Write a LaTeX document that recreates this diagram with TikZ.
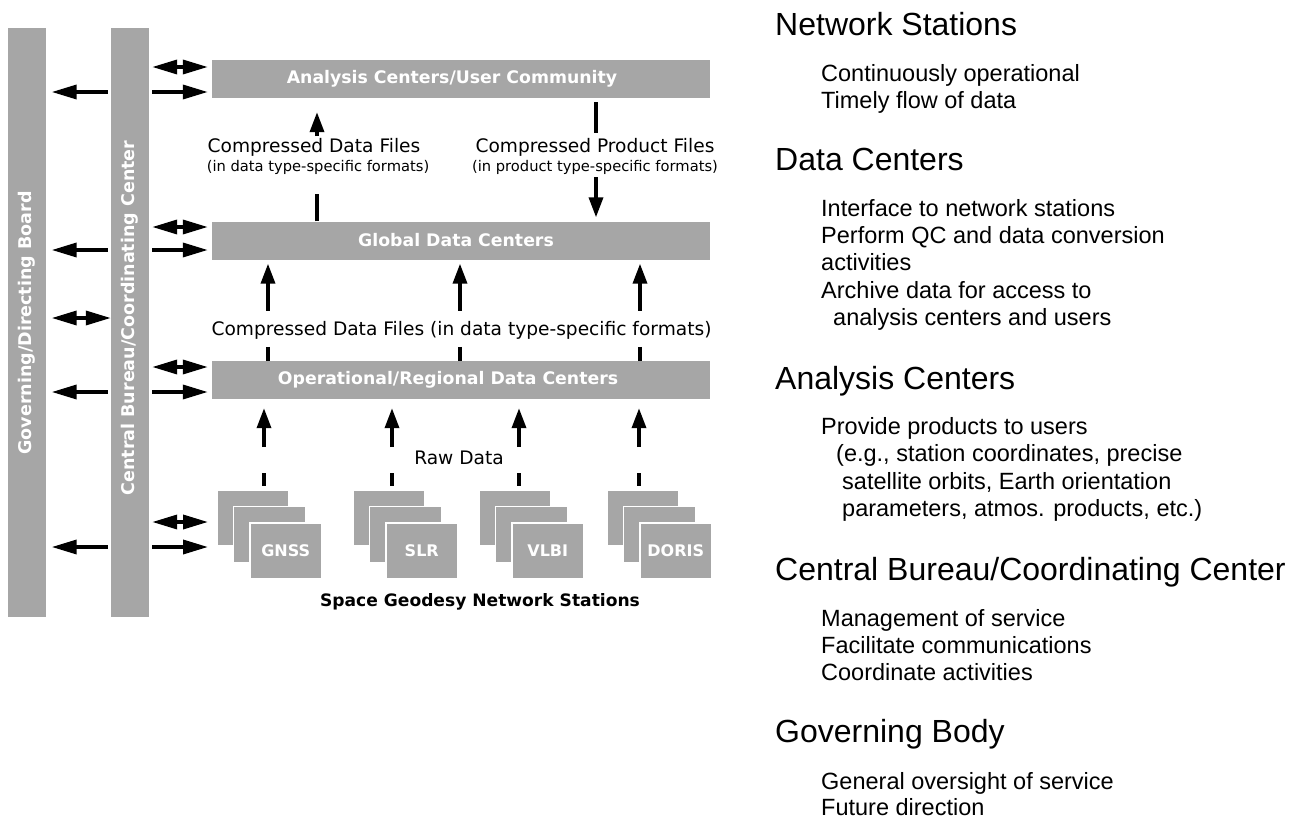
\documentclass[tikz,border=0pt]{standalone}
\usepackage{fontspec}
\setmainfont{Liberation Sans}
\newfontfamily\dv{DejaVu Sans}
\usetikzlibrary{arrows.meta,calc}
\definecolor{boxgray}{RGB}{166,166,166}
\begin{document}
\begin{tikzpicture}[x=1pt,y=-1pt,
  bar/.style={fill=boxgray, draw=none, inner sep=0pt, minimum width=38pt, minimum height=589pt},
  vtext/.style={rotate=90, text=white, inner sep=0pt, font=\dv\bfseries\fontsize{17.5}{20}\selectfont},
  box/.style={fill=boxgray, draw=none, inner sep=0pt, minimum width=498pt, minimum height=38pt},
  boxtxt/.style={text=white, inner sep=0pt, font=\dv\bfseries\fontsize{17.3}{20}\selectfont},
  stbox/.style={fill=boxgray, draw=white, line width=1.5pt, minimum width=72pt, minimum height=56pt, inner sep=0pt, anchor=north west},
  sttxt/.style={text=white, inner sep=0pt, font=\dv\bfseries\fontsize{16}{19}\selectfont},
  arr/.style={line width=3.5pt, -{Triangle[length=20pt,width=14pt]}},
  harr/.style={line width=3.5pt, -{Triangle[length=25pt,width=14pt]}},
  dbl/.style={line width=3.5pt, {Triangle[length=25pt,width=14pt]}-{Triangle[length=25pt,width=14pt]}},
  seg/.style={line width=3.5pt},
  lbl/.style={inner sep=0pt, font=\dv\fontsize{18.6}{22}\selectfont},
  sml/.style={inner sep=0pt, font=\dv\fontsize{14.7}{17}\selectfont},
  bld/.style={inner sep=0pt, font=\dv\bfseries\fontsize{17.1}{20}\selectfont},
  head/.style={anchor=base west, inner sep=0pt, font=\fontsize{32}{36}\selectfont},
  body/.style={anchor=base west, inner sep=0pt, font=\fontsize{23.5}{27}\selectfont},
]
\useasboundingbox (0,0) rectangle (1297,819);

% vertical bars
\node[bar] (gov) at (27,322.5) {};
\node[bar] (cb) at (130,322.5) {};
\node[vtext] (govt) at (27,323) {Governing/Directing Board};
\node[vtext] (cbt) at (130,318) {Central Bureau/Coordinating Center};

% main boxes
\node[box] (ana) at (461,79) {};
\node[box] (glob) at (461,240.5) {};
\node[box] (oper) at (461,380) {};
\node[boxtxt] (anat) at ($(ana.center)+(-9,0)$) {Analysis Centers/User Community};
\node[boxtxt] (globt) at ($(glob.center)+(-5,0)$) {Global Data Centers};
\node[boxtxt] (opert) at ($(oper.center)+(-13,0)$) {Operational/Regional Data Centers};

% station stacks
\node[stbox] (g1) at (216,489) {};
\node[stbox] (g2) at (232.5,505.5) {};
\node[stbox] (g3) at (249,522) {};
\node[sttxt] (gt) at (g3.center) {GNSS};
\node[stbox] (s1) at (352,489) {};
\node[stbox] (s2) at (368.5,505.5) {};
\node[stbox] (s3) at (385,522) {};
\node[sttxt] (st) at (s3.center) {SLR};
\node[stbox] (v1) at (478,489) {};
\node[stbox] (v2) at (494.5,505.5) {};
\node[stbox] (v3) at (511,522) {};
\node[sttxt] (vt) at (v3.center) {VLBI};
\node[stbox] (d1) at (606,489) {};
\node[stbox] (d2) at (622.5,505.5) {};
\node[stbox] (d3) at (639,522) {};
\node[sttxt] (dt) at (d3.center) {DORIS};

% labels
\node[lbl] (cdf) at (314,147) {Compressed Data Files};
\node[sml] (cdfs) at (318,167) {(in data type-specific formats)};
\node[lbl] (cpf) at (595,147) {Compressed Product Files};
\node[sml] (cpfs) at (595,167) {(in product type-specific formats)};
\node[lbl] (cdf2) at (461.5,330) {Compressed Data Files (in data type-specific formats)};
\node[lbl] (raw) at (459,458) {Raw Data};
\node[bld] (sgn) at (480,602) {Space Geodesy Network Stations};

% x positions of vertical connectors
\coordinate (xa) at (317,0);
\coordinate (xb) at (596,0);
\coordinate (xg1) at (268,0);
\coordinate (xg2) at (460,0);
\coordinate (xg3) at (640,0);
\coordinate (xr1) at (264,0);
\coordinate (xr2) at (392,0);
\coordinate (xr3) at (519,0);
\coordinate (xr4) at (639,0);

% global -> analysis (data files)
\draw[seg] (glob.north -| xa) -- ($(glob.north -| xa)+(0,-27)$);
\draw[arr] ($(ana.south -| xa)+(0,38)$) -- ($(ana.south -| xa)+(0,14)$);
% analysis -> global (product files)
\draw[seg] ($(ana.south -| xb)+(0,4)$) -- ($(ana.south -| xb)+(0,35)$);
\draw[arr] ($(glob.north -| xb)+(0,-44)$) -- ($(glob.north -| xb)+(0,-4)$);

% operational -> global
\foreach \c in {xg1,xg2,xg3}{
  \draw[arr] ($(glob.south -| \c)+(0,51)$) -- ($(glob.south -| \c)+(0,4)$);
  \draw[seg] ($(oper.north -| \c)+(0,-14)$) -- (oper.north -| \c);
}
% stations -> operational
\foreach \c in {xr1,xr2,xr3,xr4}{
  \draw[arr] ($(oper.south -| \c)+(0,48)$) -- ($(oper.south -| \c)+(0,9)$);
  \draw[seg] ($(g1.north -| \c)+(0,-16)$) -- ($(g1.north -| \c)+(0,-3)$);
}

% horizontal connectors
\coordinate (ya1) at (0,67);
\coordinate (ya2) at (0,92);
\coordinate (yb1) at (0,227);
\coordinate (yb2) at (0,250);
\coordinate (yc1) at (0,367);
\coordinate (yc2) at (0,392);
\coordinate (yd1) at (0,522);
\coordinate (yd2) at (0,547);
\coordinate (ye) at (0,318);

\draw[dbl, shorten <=3pt, shorten >=4pt] (cb.east |- ya1) -- (ana.west |- ya1);
\draw[harr, shorten <=3pt, shorten >=4pt] (cb.east |- ya2) -- (ana.west |- ya2);
\draw[dbl, shorten <=3pt, shorten >=4pt] (cb.east |- yb1) -- (glob.west |- yb1);
\draw[harr, shorten <=3pt, shorten >=4pt] (cb.east |- yb2) -- (glob.west |- yb2);
\draw[dbl, shorten <=3pt, shorten >=4pt] (cb.east |- yc1) -- (oper.west |- yc1);
\draw[harr, shorten <=3pt, shorten >=4pt] (cb.east |- yc2) -- (oper.west |- yc2);
\draw[dbl, shorten <=3pt, shorten >=8pt] (cb.east |- yd1) -- (g1.west |- yd1);
\draw[harr, shorten <=3pt, shorten >=8pt] (cb.east |- yd2) -- (g1.west |- yd2);

\draw[harr, shorten <=3pt, shorten >=5.5pt] (cb.west |- ya2) -- (gov.east |- ya2);
\draw[harr, shorten <=3pt, shorten >=5.5pt] (cb.west |- yb2) -- (gov.east |- yb2);
\draw[harr, shorten <=3pt, shorten >=5.5pt] (cb.west |- yc2) -- (gov.east |- yc2);
\draw[harr, shorten <=3pt, shorten >=5.5pt] (cb.west |- yd2) -- (gov.east |- yd2);
\draw[dbl, shorten <=5.5pt, shorten >=0pt] (gov.east |- ye) -- (cb.west |- ye);

% right-hand text
\node[head] (h1) at (775,35) {Network Stations};
\node[body] (b11) at (821,81.7) {Continuously operational};
\node[body] (b12) at (821,108.3) {Timely flow of data};
\node[head] (h2) at (775,170.7) {Data Centers};
\node[body] (b21) at (821,216.7) {Interface to network stations};
\node[body] (b22) at (821,243.3) {Perform QC and data conversion};
\node[body] (b23) at (821,270.5) {activities};
\node[body] (b24) at (821,298) {Archive data for access to};
\node[body] (b25) at (833,325.5) {analysis centers and users};
\node[head] (h3) at (775,389.3) {Analysis Centers};
\node[body] (b31) at (821,434.5) {Provide products to users};
\node[body] (b32) at (836,461.5) {(e.g., station coordinates, precise};
\node[body] (b33) at (842,489) {satellite orbits, Earth orientation};
\node[body] (b34) at (842,516.5) {parameters, atmos. products, etc.)};
\node[head] (h4) at (775,580) {Central Bureau/Coordinating Center};
\node[body] (b41) at (821,626) {Management of service};
\node[body] (b42) at (821,653.3) {Facilitate communications};
\node[body] (b43) at (821,680.7) {Coordinate activities};
\node[head] (h5) at (775,742.5) {Governing Body};
\node[body] (b51) at (821,789) {General oversight of service};
\node[body] (b52) at (821,815) {Future direction};
\end{tikzpicture}
\end{document}
